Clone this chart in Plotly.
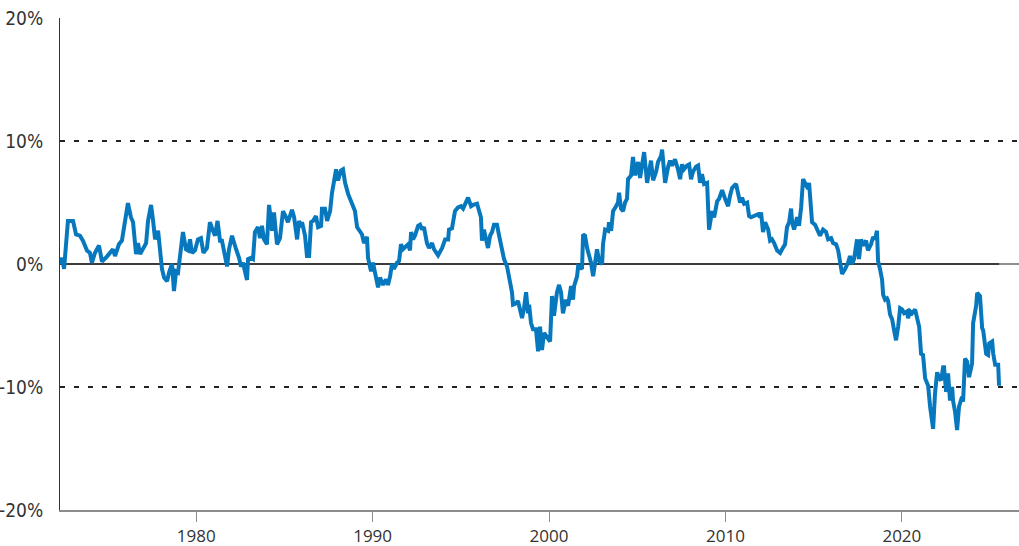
import plotly.graph_objects as go

# Decimal-year dates of the series
years = [
    1972.28, 1972.39, 1972.51, 1972.73, 1973.02, 1973.19, 1973.41, 1973.58, 1973.81, 1973.98,
    1974.09, 1974.26, 1974.49, 1974.66, 1974.94, 1975.11, 1975.28, 1975.40, 1975.62, 1975.79,
    1975.96, 1976.13, 1976.30, 1976.42, 1976.59, 1976.70, 1976.82, 1976.99, 1977.16, 1977.27,
    1977.44, 1977.55, 1977.67, 1977.84, 1977.95, 1978.06, 1978.18, 1978.35, 1978.46, 1978.63,
    1978.74, 1978.86, 1978.97, 1979.14, 1979.25, 1979.42, 1979.54, 1979.65, 1979.76, 1979.93,
    1980.10, 1980.27, 1980.41, 1980.61, 1980.78, 1980.95, 1981.07, 1981.21, 1981.35, 1981.46,
    1981.58, 1981.75, 1981.86, 1982.03, 1982.26, 1982.43, 1982.54, 1982.65, 1982.88, 1982.94,
    1983.11, 1983.22, 1983.33, 1983.50, 1983.62, 1983.73, 1983.84, 1984.01, 1984.13, 1984.30,
    1984.41, 1984.58, 1984.75, 1984.92, 1985.09, 1985.20, 1985.43, 1985.55, 1985.72, 1985.83,
    1985.94, 1986.00, 1986.17, 1986.28, 1986.40, 1986.51, 1986.62, 1986.79, 1986.91, 1987.08,
    1987.13, 1987.30, 1987.42, 1987.59, 1987.70, 1987.81, 1987.93, 1988.04, 1988.21, 1988.32,
    1988.44, 1988.61, 1988.72, 1988.83, 1989.00, 1989.12, 1989.23, 1989.40, 1989.51, 1989.68,
    1989.74, 1989.91, 1990.02, 1990.19, 1990.31, 1990.42, 1990.59, 1990.76, 1990.87, 1990.99,
    1991.10, 1991.21, 1991.38, 1991.50, 1991.61, 1991.72, 1991.89, 1992.01, 1992.12, 1992.18,
    1992.29, 1992.40, 1992.58, 1992.69, 1992.80, 1992.91, 1993.08, 1993.20, 1993.37, 1993.48,
    1993.71, 1993.94, 1994.11, 1994.28, 1994.33, 1994.50, 1994.56, 1994.67, 1994.84, 1995.01,
    1995.13, 1995.30, 1995.41, 1995.58, 1995.69, 1995.92, 1996.03, 1996.14, 1996.20, 1996.31,
    1996.43, 1996.54, 1996.66, 1996.77, 1996.88, 1997.05, 1997.17, 1997.34, 1997.45, 1997.62,
    1997.68, 1997.79, 1997.90, 1997.96, 1998.13, 1998.24, 1998.36, 1998.47, 1998.58, 1998.70,
    1998.81, 1998.87, 1998.98, 1999.09, 1999.26, 1999.38, 1999.49, 1999.60, 1999.72, 1999.89,
    2000.06, 2000.17, 2000.28, 2000.45, 2000.57, 2000.68, 2000.79, 2000.96, 2001.08, 2001.25,
    2001.36, 2001.42, 2001.59, 2001.65, 2001.87, 2001.93, 2002.04, 2002.16, 2002.27, 2002.38,
    2002.50, 2002.61, 2002.72, 2002.84, 2003.01, 2003.06, 2003.18, 2003.35, 2003.40, 2003.52,
    2003.63, 2003.80, 2003.91, 2003.97, 2004.08, 2004.20, 2004.31, 2004.42, 2004.48, 2004.65,
    2004.76, 2004.88, 2005.05, 2005.16, 2005.27, 2005.39, 2005.56, 2005.67, 2005.78, 2005.90,
    2006.07, 2006.18, 2006.35, 2006.41, 2006.58, 2006.75, 2006.86, 2006.97, 2007.14, 2007.31,
    2007.43, 2007.54, 2007.65, 2007.82, 2007.94, 2008.05, 2008.16, 2008.33, 2008.45, 2008.56,
    2008.67, 2008.79, 2008.96, 2009.07, 2009.24, 2009.36, 2009.53, 2009.64, 2009.81, 2009.98,
    2010.15, 2010.26, 2010.38, 2010.60, 2010.72, 2010.83, 2010.94, 2011.06, 2011.23, 2011.34,
    2011.45, 2011.62, 2011.85, 2011.96, 2012.02, 2012.13, 2012.25, 2012.42, 2012.53, 2012.64,
    2012.76, 2012.93, 2013.10, 2013.21, 2013.38, 2013.49, 2013.61, 2013.72, 2013.78, 2013.89,
    2014.06, 2014.17, 2014.29, 2014.40, 2014.57, 2014.68, 2014.74, 2014.85, 2014.91, 2015.08,
    2015.25, 2015.36, 2015.53, 2015.70, 2015.82, 2015.99, 2016.10, 2016.27, 2016.39, 2016.50,
    2016.61, 2016.78, 2016.95, 2017.06, 2017.18, 2017.29, 2017.46, 2017.57, 2017.69, 2017.80,
    2017.97, 2018.08, 2018.25, 2018.37, 2018.48, 2018.59, 2018.65, 2018.76, 2018.88, 2018.94,
    2019.05, 2019.16, 2019.22, 2019.33, 2019.45, 2019.56, 2019.67, 2019.79, 2019.90, 2020.01,
    2020.13, 2020.30, 2020.35, 2020.47, 2020.58, 2020.75, 2020.86, 2020.98, 2021.09, 2021.20,
    2021.32, 2021.49, 2021.60, 2021.77, 2021.88, 2022.00, 2022.11, 2022.22, 2022.34, 2022.39,
    2022.51, 2022.62, 2022.73, 2022.85, 2022.90, 2023.02, 2023.13, 2023.24, 2023.41, 2023.47,
    2023.58, 2023.70, 2023.81, 2023.98, 2024.04, 2024.21, 2024.27, 2024.43, 2024.55, 2024.61,
    2024.78, 2024.89, 2024.95, 2025.12, 2025.18, 2025.29, 2025.46, 2025.51,
]

# Series values in percent
values = [
    0.0, 0.5, -0.4, 3.5, 3.5, 2.4, 2.3, 1.9, 1.1, 0.9,
    0.1, 0.9, 1.5, 0.2, 0.6, 0.9, 1.2, 0.65, 1.6, 1.9,
    3.4, 4.95, 3.8, 3.4, 0.8, 1.7, 0.8, 1.2, 1.7, 3.5,
    4.8, 3.6, 2.0, 2.7, 1.2, -0.4, -1.1, -1.4, -0.7, 0.0,
    -2.2, -0.6, -0.7, 1.7, 2.6, 1.2, 1.1, 2.0, 0.9, 1.1,
    2.0, 2.1, 0.9, 1.3, 3.4, 2.7, 2.3, 3.5, 1.9, 1.9,
    0.9, -0.2, 1.2, 2.3, 1.2, 0.5, -0.2, 0.1, -1.3, 0.4,
    0.5, 0.4, 2.6, 3.0, 2.1, 3.1, 2.0, 1.6, 4.8, 2.7,
    4.2, 1.6, 2.1, 4.3, 3.8, 3.4, 4.4, 3.8, 2.0, 3.5,
    3.0, 3.4, 2.3, 0.65, 0.65, 3.4, 3.5, 3.9, 3.0, 3.1,
    4.5, 4.5, 3.5, 4.3, 5.8, 6.6, 7.7, 6.8, 7.6, 7.7,
    6.6, 5.7, 5.3, 5.1, 4.3, 3.0, 2.7, 2.4, 1.7, 2.2,
    0.5, -0.6, 0.1, -1.0, -1.9, -1.1, -1.7, -1.25, -1.7, -1.0,
    0.0, -0.4, 0.1, 0.25, 1.6, 1.2, 1.5, 1.6, 1.1, 2.6,
    2.0, 2.3, 3.1, 3.2, 2.8, 3.0, 1.7, 1.3, 1.7, 1.2,
    0.7, 1.3, 2.0, 2.0, 2.8, 2.9, 3.4, 4.3, 4.6, 4.7,
    4.5, 4.95, 5.4, 4.7, 4.8, 4.9, 4.3, 3.8, 1.9, 2.8,
    2.0, 1.3, 2.3, 2.6, 3.2, 3.2, 2.3, 1.2, 0.4, -0.2,
    -0.6, -1.5, -2.3, -3.3, -3.2, -3.0, -3.6, -4.4, -3.6, -2.3,
    -4.0, -3.3, -4.8, -5.3, -5.3, -7.1, -5.1, -7.0, -5.6, -6.0,
    -6.3, -2.6, -4.2, -2.3, -1.7, -2.3, -4.0, -2.9, -3.4, -1.8,
    -2.9, -1.8, -1.0, -0.2, -0.4, 2.4, 2.3, 1.3, 0.65, 0.1,
    -1.0, 0.0, 1.2, 0.25, 0.0, 1.6, 2.8, 2.7, 3.4, 2.7,
    4.3, 4.7, 5.0, 5.8, 4.5, 4.3, 5.0, 5.3, 6.9, 7.2,
    8.7, 7.2, 8.3, 7.0, 8.3, 9.1, 6.6, 7.5, 8.4, 6.8,
    7.5, 8.3, 8.8, 9.3, 6.6, 7.9, 8.4, 8.0, 8.5, 7.7,
    6.9, 8.1, 7.7, 8.0, 8.1, 6.9, 7.5, 7.9, 8.0, 6.6,
    7.3, 6.5, 6.6, 2.8, 4.3, 3.8, 5.1, 5.3, 6.0, 5.3,
    4.7, 5.55, 6.2, 6.5, 5.7, 5.0, 5.4, 4.9, 5.0, 3.9,
    3.8, 3.9, 4.05, 3.8, 4.2, 2.6, 3.4, 2.8, 1.9, 2.0,
    1.7, 1.1, 0.9, 1.2, 1.6, 3.0, 3.4, 4.5, 3.4, 2.8,
    3.8, 3.1, 4.6, 6.9, 6.5, 6.1, 6.6, 4.7, 3.4, 3.2,
    2.7, 2.3, 2.8, 2.6, 2.0, 2.1, 1.7, 1.6, 1.1, 0.1,
    -0.8, -0.4, 0.1, 0.65, 0.0, 0.4, 2.0, 0.4, 2.0, 1.5,
    1.9, 1.1, 1.6, 2.2, 2.0, 2.7, 0.25, -0.4, -1.3, -2.5,
    -2.9, -2.8, -3.0, -4.1, -4.5, -5.4, -6.2, -5.1, -3.6, -3.7,
    -4.0, -3.85, -4.4, -3.85, -4.0, -3.7, -4.3, -5.1, -7.3, -7.4,
    -9.3, -9.9, -11.6, -13.4, -10.5, -8.8, -9.3, -9.45, -8.4, -8.4,
    -10.4, -8.9, -11.1, -10.0, -11.1, -12.05, -13.5, -11.6, -10.8, -11.2,
    -7.7, -7.95, -9.2, -8.1, -4.8, -3.4, -2.35, -2.6, -5.2, -5.4,
    -7.3, -7.4, -6.45, -6.3, -7.3, -8.2, -8.2, -9.9,
]

x_tick_years = [1980, 1990, 2000, 2010, 2020]
x_tick_labels = ["1980", "1990", "2000", "2010", "2020"]
y_tick_vals = [-20, -10, 0, 10, 20]
y_tick_labels = ["-20%", "-10%", "0%", "10%", "20%"]
band_levels = [10, -10]

fig = go.Figure()

# zero baseline spanning the data period
fig.add_trace(go.Scatter(
    x=[years[0], years[-1]], y=[0, 0], mode="lines",
    line=dict(color="#3c3c3c", width=2), hoverinfo="skip", showlegend=False,
))

fig.add_trace(go.Scatter(
    x=years, y=values, mode="lines",
    line=dict(color="#0878be", width=4),
    showlegend=False,
))

for lvl in band_levels:
    fig.add_shape(type="line", xref="paper", x0=0, x1=1, yref="y", y0=lvl, y1=lvl,
                  line=dict(color="#222222", width=1.8, dash="5px,9px"), layer="below")

fig.update_layout(
    width=1019, height=546,
    margin=dict(l=60, r=0, t=18, b=36, autoexpand=False),
    paper_bgcolor="white", plot_bgcolor="white",
    font=dict(family="Liberation Sans Narrow, DejaVu Sans Condensed, sans-serif", color="#333333", size=19),
    xaxis=dict(
        range=[1972.28, 2026.64],
        tickvals=x_tick_years, ticktext=x_tick_labels,
        showgrid=False, zeroline=False, automargin=False,
        showline=True, linecolor="#8c8c8c", linewidth=1.5,
        ticks="outside", ticklen=10, tickcolor="#8c8c8c", tickwidth=1,
        tickfont=dict(family="Open Sans, sans-serif", size=17, color="#333333"),
    ),
    yaxis=dict(
        range=[-20, 20],
        tickvals=y_tick_vals, ticktext=y_tick_labels,
        showgrid=False, zeroline=True, zerolinecolor="#8f8f8f", zerolinewidth=2,
        showline=True, linecolor="#333333", linewidth=1,
        ticks="", ticklabelstandoff=12, automargin=False,
        ticklabeloverflow="allow",
        tickfont=dict(size=19, color="#333333"),
    ),
)

fig.write_html(
    "out.html",
    config={"displayModeBar": False},
    post_script="document.body.style.margin='0';document.body.style.overflow='hidden';",
)
